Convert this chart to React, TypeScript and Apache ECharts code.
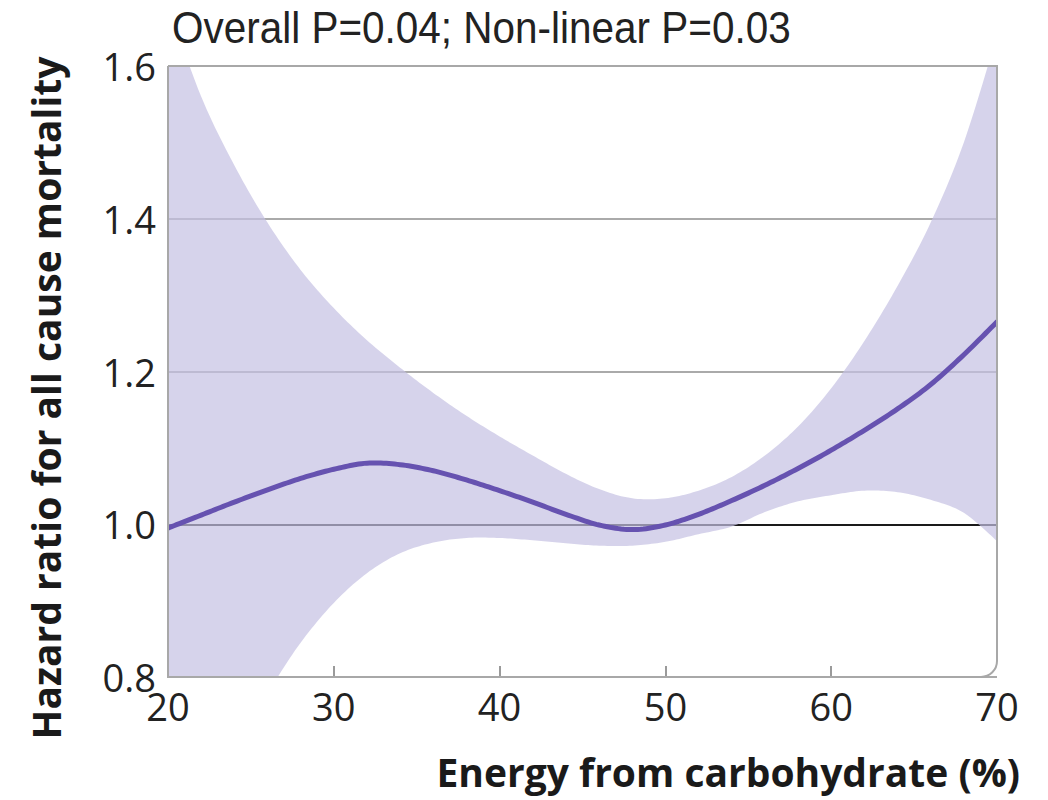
import React, { useEffect, useRef } from "react";
import * as echarts from "echarts";

const carbPct = [20, 22, 24, 26, 28, 30, 32, 34, 36, 38, 40, 42, 44, 46, 48, 50, 52, 54, 56, 58, 60, 62, 64, 66, 68, 70];
const hazardRatio = [0.995, 1.012, 1.029, 1.045, 1.06, 1.072, 1.08, 1.078, 1.07, 1.058, 1.044, 1.029, 1.013, 0.999, 0.993, 0.999, 1.013, 1.031, 1.051, 1.073, 1.097, 1.123, 1.151, 1.183, 1.222, 1.265];
const upperCI = [1.68, 1.56, 1.47, 1.395, 1.333, 1.283, 1.241, 1.205, 1.172, 1.142, 1.115, 1.09, 1.066, 1.046, 1.034, 1.034, 1.044, 1.062, 1.09, 1.128, 1.178, 1.24, 1.312, 1.395, 1.5, 1.64];
const lowerCI = [0.6, 0.66, 0.72, 0.78, 0.845, 0.897, 0.936, 0.962, 0.976, 0.982, 0.982, 0.979, 0.975, 0.972, 0.972, 0.977, 0.987, 0.997, 1.016, 1.03, 1.038, 1.044, 1.042, 1.032, 1.015, 0.978];
const xTicks = [30, 40, 50, 60];
const titleText = "Overall P=0.04; Non-linear P=0.03";
const xTitle = "Energy from carbohydrate (%)";
const yTitle = "Hazard ratio for all cause mortality";

const GRID = { left: 168, top: 66, right: 51, bottom: 123 };
const W = 1048;
const H = 800;

function catmullRom(p: number[][], steps = 12): number[][] {
  const out: number[][] = [];
  const n = p.length;
  for (let i = 0; i < n - 1; i++) {
    const p0 = p[Math.max(i - 1, 0)];
    const p1 = p[i];
    const p2 = p[i + 1];
    const p3 = p[Math.min(i + 2, n - 1)];
    for (let k = 0; k < steps; k++) {
      const t = k / steps;
      const t2 = t * t;
      const t3 = t2 * t;
      const f = (a: number, b: number, c: number, d: number) =>
        0.5 * (2 * b + (-a + c) * t + (2 * a - 5 * b + 4 * c - d) * t2 + (-a + 3 * b - 3 * c + d) * t3);
      out.push([f(p0[0], p1[0], p2[0], p3[0]), f(p0[1], p1[1], p2[1], p3[1])]);
    }
  }
  out.push(p[n - 1]);
  return out;
}

export default function App() {
  const ref = useRef<HTMLDivElement>(null);
  useEffect(() => {
    if (!ref.current) return;
    const chart = echarts.init(ref.current, null, { renderer: "svg" });
    const gw = W - GRID.left - GRID.right;
    const gh = H - GRID.top - GRID.bottom;
    chart.setOption({
      animation: false,
      backgroundColor: "#ffffff",
      grid: { ...GRID },
      xAxis: {
        type: "value",
        min: 20,
        max: 70,
        interval: 10,
        axisLine: { show: false },
        axisTick: {
          show: true,
          inside: true,
          length: 11,
          customValues: xTicks,
          lineStyle: { color: "#9a9a9a", width: 2 },
        },
        splitLine: { show: false },
        axisLabel: {
          margin: 10,
          fontFamily: "'Open Sans', sans-serif",
          fontSize: 38,
          color: "#222",
        },
      },
      yAxis: {
        type: "value",
        min: 0.8,
        max: 1.6,
        interval: 0.2,
        axisLine: { show: false },
        axisTick: { show: false },
        splitLine: {
          show: true,
          lineStyle: { color: ["#aaaaaa", "#1a1a1a", "#aaaaaa", "#aaaaaa", "#aaaaaa"], width: 2 },
        },
        axisLabel: {
          margin: 12,
          fontFamily: "'Open Sans', sans-serif",
          fontSize: 38,
          color: "#222",
          formatter: (v: number) => v.toFixed(1),
        },
      },
      series: [
        {
          name: "95% CI",
          type: "custom",
          clip: true,
          z: 2,
          data: carbPct.map((x, i) => [x, lowerCI[i], upperCI[i]]),
          renderItem: (params: any, api: any) => {
            if (params.dataIndex !== 0) return null;
            const up = carbPct.map((x, i) => api.coord([x, upperCI[i]]));
            const lo = carbPct.map((x, i) => api.coord([x, lowerCI[i]]));
            const pts = [...catmullRom(up), ...catmullRom(lo).reverse()];
            return {
              type: "polygon",
              shape: { points: pts },
              style: { fill: "rgba(196,193,226,0.7)", stroke: "none" },
            };
          },
        },
        {
          name: "Hazard ratio",
          type: "custom",
          clip: true,
          z: 4,
          data: carbPct.map((x, i) => [x, hazardRatio[i]]),
          renderItem: (params: any, api: any) => {
            if (params.dataIndex !== 0) return null;
            const pts = carbPct.map((x, i) => api.coord([x, hazardRatio[i]]));
            return {
              type: "polyline",
              shape: { points: catmullRom(pts) },
              style: { fill: "none", stroke: "#6652b0", lineWidth: 5, lineCap: "round", lineJoin: "round" },
            };
          },
        },
      ],
      graphic: [
        {
          type: "rect",
          z: 100,
          shape: { x: GRID.left, y: GRID.top, width: gw, height: gh, r: [0, 0, 16, 0] },
          style: { fill: "none", stroke: "#a8a8a8", lineWidth: 2 },
        },
        {
          type: "text",
          x: 172,
          y: 28,
          scaleX: 0.92,
          style: {
            text: titleText,
            textAlign: "left",
            textVerticalAlign: "middle",
            fontFamily: "'Liberation Sans', sans-serif",
            fontSize: 44,
            fill: "#222",
          },
        },
        {
          type: "text",
          x: 1020,
          y: 771,
          style: {
            text: xTitle,
            textAlign: "right",
            textVerticalAlign: "middle",
            fontFamily: "'Open Sans', sans-serif",
            fontWeight: "bold",
            fontSize: 39,
            fill: "#1a1a1a",
          },
        },
        {
          type: "text",
          x: 45,
          y: 398,
          rotation: Math.PI / 2,
          style: {
            text: yTitle,
            textAlign: "center",
            textVerticalAlign: "middle",
            fontFamily: "'Open Sans', sans-serif",
            fontWeight: "bold",
            fontSize: 39,
            fill: "#1a1a1a",
          },
        },
      ],
    });
    return () => chart.dispose();
  }, []);
  return (
    <div
      ref={ref}
      style={{ position: "fixed", left: 0, top: 0, width: W, height: H }}
    />
  );
}
